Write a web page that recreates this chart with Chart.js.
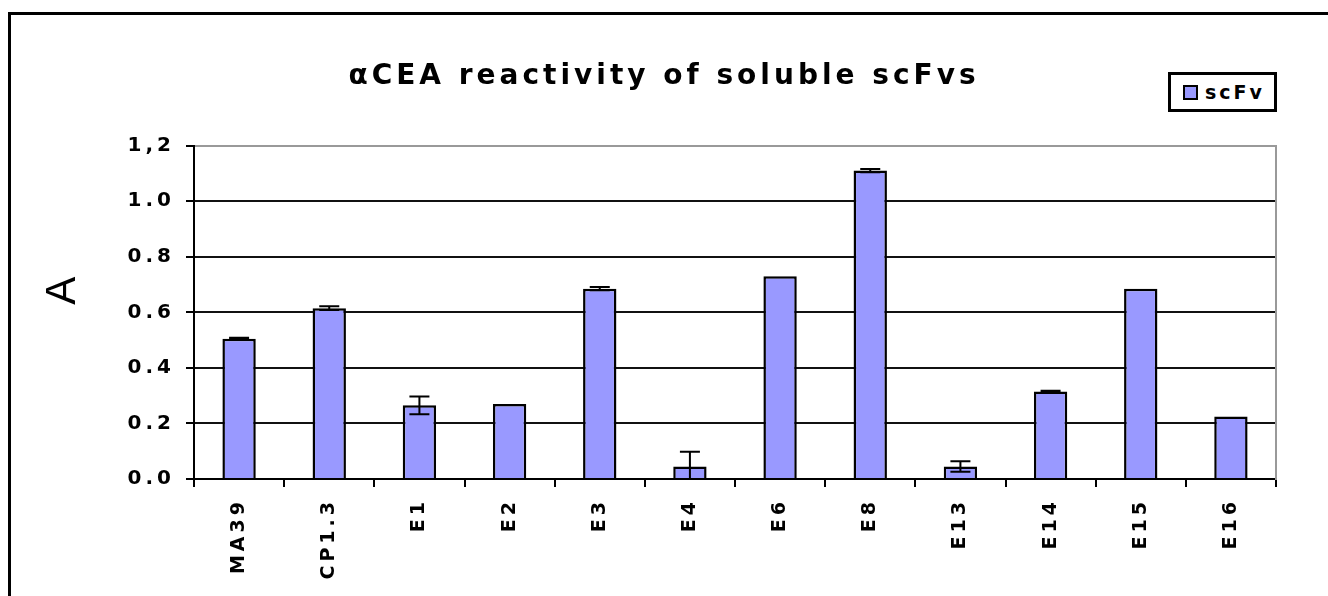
<!DOCTYPE html>
<html lang="en">
<head>
    <meta charset="UTF-8">
    <title>aCEA reactivity of soluble scFvs</title>
    <script src="https://cdn.jsdelivr.net/npm/chart.js"></script>
    <style>
        body { margin: 0; background: #ffffff; overflow: hidden; }
        .frame { position: absolute; left: 8px; top: 12px; width: 1400px; height: 700px; border: 3px solid #000; }
        #chart { position: absolute; left: 0; top: 0; }
        .legend { position: absolute; left: 1168px; top: 72px; width: 103px; height: 34px; border: 3px solid #000; background: #fff;
                  display: flex; align-items: center; font-family: 'DejaVu Sans', sans-serif; font-weight: bold; font-size: 19px; letter-spacing: 3px; }
        .legend .swatch { width: 11px; height: 11px; border: 2px solid #000; margin: 0 7px 0 12px; }
    </style>
</head>
<body>
    <div class="frame"></div>
    <canvas id="chart" width="1328" height="596"></canvas>
    <div class="legend" id="legend"></div>
    <script>
        const categories = ['MA39', 'CP1.3', 'E1', 'E2', 'E3', 'E4', 'E6', 'E8', 'E13', 'E14', 'E15', 'E16'];
        const scfv = [0.505, 0.615, 0.265, 0.27, 0.685, 0.045, 0.73, 1.11, 0.045, 0.315, 0.685, 0.225];
        const scfvErr = [0.003, 0.007, 0.032, 0, 0.006, 0.053, 0, 0.006, 0.019, 0.003, 0, 0];
        const yTickLabels = ['0.0', '0.2', '0.4', '0.6', '0.8', '1.0', '1,2'];

        // error bars drawn over the bars
        const errorBars = {
            id: 'errorBars',
            afterDatasetsDraw(chart) {
                const ctx = chart.ctx;
                const y = chart.scales.y;
                const meta = chart.getDatasetMeta(0);
                ctx.save();
                ctx.strokeStyle = '#000';
                ctx.lineWidth = 2;
                meta.data.forEach((bar, i) => {
                    const e = scfvErr[i];
                    if (!e) return;
                    const top = y.getPixelForValue(scfv[i] + e);
                    const low = Math.max(0, scfv[i] - e);
                    const bot = y.getPixelForValue(low);
                    ctx.beginPath();
                    ctx.moveTo(bar.x, top); ctx.lineTo(bar.x, bot);
                    ctx.moveTo(bar.x - 10, top); ctx.lineTo(bar.x + 10, top);
                    if (low > 0) { ctx.moveTo(bar.x - 10, bot); ctx.lineTo(bar.x + 10, bot); }
                    ctx.stroke();
                });
                ctx.restore();
            }
        };

        // letter spacing for the old mac look
        const spacing = {
            id: 'spacing',
            beforeDraw(chart) { chart.ctx.letterSpacing = '4px'; }
        };

        const chart = new Chart(document.getElementById('chart'), {
            type: 'bar',
            data: {
                labels: categories,
                datasets: [{
                    label: 'scFv',
                    data: scfv,
                    backgroundColor: '#9999ff',
                    borderColor: '#000',
                    borderWidth: 2.5,
                    categoryPercentage: 1,
                    barPercentage: 0.37
                }]
            },
            options: {
                responsive: false,
                animation: false,
                devicePixelRatio: 1,
                layout: { padding: 0 },
                plugins: {
                    legend: { display: false },
                    tooltip: { enabled: false },
                    title: {
                        display: true,
                        text: 'αCEA reactivity of soluble scFvs',
                        color: '#000',
                        font: { family: 'DejaVu Sans', size: 28, weight: 'bold', lineHeight: 1.2 },
                        padding: { top: 60, bottom: 52 }
                    }
                },
                scales: {
                    x: {
                        afterFit(s) { s.height = 117; },
                        grid: { drawOnChartArea: false, color: '#000', lineWidth: 2, tickLength: 8 },
                        border: { color: '#000', width: 2 },
                        ticks: {
                            autoSkip: false, minRotation: 90, maxRotation: 90, padding: 11, color: '#000',
                            font: { family: 'DejaVu Sans', size: 19, weight: 'bold' }
                        }
                    },
                    y: {
                        min: 0, max: 1.2,
                        afterFit(s) { s.width = 194; },
                        grid: {
                            color: c => (c.tick && c.tick.value > 1.1 ? '#999' : '#111'),
                            tickColor: '#000', lineWidth: 2, tickLength: 8
                        },
                        border: { color: '#000', width: 2 },
                        ticks: {
                            stepSize: 0.2, padding: 11, color: '#000',
                            font: { family: 'DejaVu Sans', size: 20, weight: 'bold' },
                            callback: (v, i) => yTickLabels[i]
                        },
                        title: {
                            display: true, text: '   A', color: '#000',
                            font: { family: 'Liberation Sans', size: 42, weight: 'normal', lineHeight: 1.2 },
                            padding: { top: 38, bottom: 0 }
                        }
                    },
                    // empty right axis: gray right edge of the plot
                    y2: {
                        position: 'right',
                        min: 0, max: 1.2,
                        afterFit(s) { s.width = 52; },
                        grid: { display: false },
                        ticks: { display: false },
                        border: { color: '#999', width: 2 }
                    }
                }
            },
            plugins: [errorBars, spacing]
        });

        const legend = document.getElementById('legend');
        chart.data.datasets.forEach(ds => {
            legend.innerHTML += `<span class="swatch" style="background:${ds.backgroundColor}"></span><span>${ds.label}</span>`;
        });
    </script>
</body>
</html>
